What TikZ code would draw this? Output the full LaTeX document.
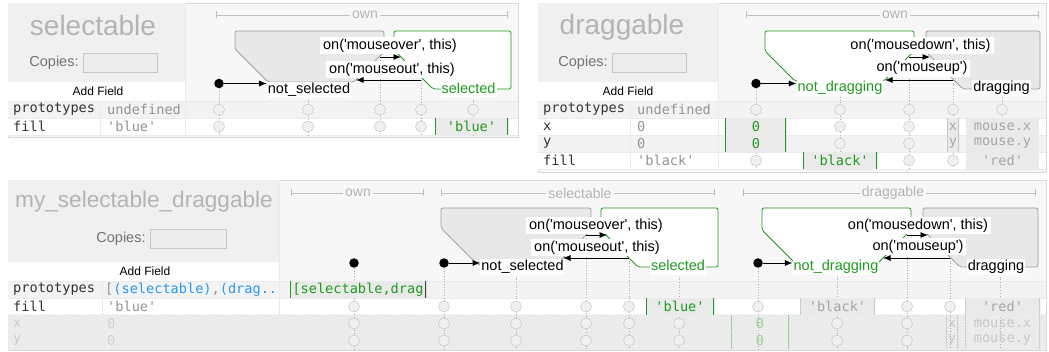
\documentclass[tikz,border=0pt]{standalone}
\usepackage{fontspec}
\setmainfont{Liberation Sans}
\newfontfamily\monof{DejaVu Sans Mono}
\usetikzlibrary{arrows.meta,patterns}
\definecolor{pbg}{HTML}{F7F7F7}
\definecolor{sbg}{HTML}{F0F0F0}
\definecolor{rbg}{HTML}{F3F3F3}
\definecolor{edge}{HTML}{D9D9D9}
\definecolor{cellg}{HTML}{EAEAEA}
\definecolor{txtg}{HTML}{B4B4B4}
\definecolor{grn}{HTML}{1F9A1F}
\definecolor{blu}{HTML}{2A98F0}
\newcommand\fsz[1]{\fontsize{#1}{#1}\selectfont}
\newcommand\qt{\textquotesingle}

\begin{document}
\begin{tikzpicture}[x=1pt,y=-1pt,
  panel/.style={draw=edge,fill=pbg},
  sepl/.style={draw=black!8},
  ttl/.style={text=txtg,font=\fsz{28},inner sep=0pt},
  cop/.style={text=black!55,font=\fsz{14.5},anchor=east,inner sep=0pt},
  cbox/.style={draw=black!22,fill=black!7,minimum width=74pt,minimum height=19pt,inner sep=0pt},
  addf/.style={font=\fsz{12},inner sep=0pt},
  key/.style={font=\monof\fsz{13.6},text=black!80,anchor=west,inner sep=0pt},
  val/.style={font=\monof\fsz{13.6},text=black!42,anchor=west,inner sep=0pt},
  rng/.style={draw=black!25,line width=0.7pt,{Bar[width=7pt]}-{Bar[width=7pt]}},
  rnglbl/.style={fill=pbg,text=txtg,font=\fsz{14},inner sep=2pt},
  st/.style={fill=white,font=\fsz{14.5},inner sep=1pt,text height=10.5pt,text depth=3.5pt},
  ev/.style={fill=white,font=\fsz{14.5},inner xsep=3pt,inner ysep=1.5pt,text height=10.5pt,text depth=3.5pt},
  gshape/.style={draw=black!38,fill=black!9,line width=0.75pt,rounded corners=2pt},
  wshape/.style={draw=grn,fill=white,line width=0.75pt,rounded corners=2pt},
  tr/.style={-{Latex[length=7.5pt,width=6pt]},line width=0.8pt},
  dot/.style={circle,fill=black,minimum size=9.5pt,inner sep=0pt},
  guide/.style={draw=black!32,dotted,line width=0.7pt},
  circ/.style={circle,draw=black!25,fill=black!6,minimum size=11pt,inner sep=0pt},
  cell/.style={fill=cellg,inner sep=0pt,minimum height=17pt,font=\monof\fsz{13.6}},
  bars/.style 2 args={path picture={
    \draw[#1,line width=2.6pt] (path picture bounding box.north west) -- (path picture bounding box.south west);
    \draw[#2,line width=2.6pt] (path picture bounding box.north east) -- (path picture bounding box.south east);}},
  ctxt/.style={font=\monof\fsz{13.6},inner sep=0pt}
]
\useasboundingbox (0,0) rectangle (1049,352);

%%%%% selectable
\draw[panel] (8,3) rectangle (518,137);
\fill[sbg] (8,3) rectangle (185,82);
\fill[white] (8,82) rectangle (185,101);
\fill[rbg] (8,101) rectangle (518,118);
\fill[white] (8,118) rectangle (518,135);
\draw[sepl] (185,3) -- (185,135) (100,101) -- (100,135) (8,101) -- (518,101) (8,118) -- (518,118) (8,135) -- (518,135);
\node[ttl] (sT) at (93,25) {selectable};
\node[cbox] (sCB) at (120,62.5) {};
\node[cop] (sC) at ([xshift=-4pt]sCB.west) {Copies:};
\node[addf] (sA) at (98,91.5) {Add Field};
\node[key] (sK1) at (13,109.5) {prototypes};
\node[val] (sV1) at (107,109.5) {undefined};
\node[key] (sK2) at (13,126.5) {fill};
\node[val] (sV2) at (107,126.5) {\qt blue\qt};

\coordinate (sO1) at (216,15);
\coordinate (sO2) at (508,15);
\draw[rng] (sO1) -- (sO2);
\node[rnglbl] (sOwn) at (365,15) {own};

\draw[gshape] (235,31) -- (384,31) -- (384,52) -- (354,82) -- (268,82) -- (235,49) -- cycle;
\draw[wshape] (394,31) -- (511,31) -- (511,89) -- (433,89) -- (394,50) -- cycle;

\node[dot] (s0) at (219,83.5) {};
\coordinate (s1) at (308,97);
\coordinate (s2) at (380,57);
\coordinate (s3) at (421,80);
\coordinate (s4) at (473,97);
\coordinate (s2e) at (401,57);
\coordinate (s3e) at (356,80);
\coordinate (sR1) at (0,109.5);
\coordinate (sR2) at (0,126.5);
\coordinate (sB) at (0,135);
\foreach \c in {s0,s1,s2,s3,s4} \draw[guide] (\c) -- (\c |- sB);

\node[st] (sNS) at (309,90) {not\_selected};
\node[st,text=grn] (sSel) at (468.5,90) {selected};
\node[ev] (sOver) at (390,46) {on(\qt mouseover\qt, this)};
\node[ev] (sOut) at (392,70) {on(\qt mouseout\qt, this)};
\draw[tr] (s0) -- (s0 -| sNS.west);
\draw[tr] (s2) -- (s2e);
\draw[tr] (s3) -- (s3e);

\foreach \c in {s0,s1,s2,s3,s4} \node[circ] (\c-p) at (\c |- sR1) {};
\foreach \c in {s0,s1,s2,s3} \node[circ] (\c-f) at (\c |- sR2) {};
\node[cell,bars={grn}{grn},minimum width=73pt,text=grn] (s4-f) at (471.5,126.5) {\qt blue\qt};

%%%%% draggable
\draw[panel] (538,3) rectangle (1046,172);
\fill[sbg] (538,3) rectangle (718,82);
\fill[white] (538,82) rectangle (718,101);
\fill[rbg] (538,101) rectangle (1046,118);
\fill[white] (538,118) rectangle (1046,135);
\fill[rbg] (538,135) rectangle (1046,152);
\fill[white] (538,152) rectangle (1046,169);
\draw[sepl] (718,3) -- (718,169) (630,101) -- (630,169) (538,101) -- (1046,101) (538,118) -- (1046,118) (538,135) -- (1046,135) (538,152) -- (1046,152) (538,169) -- (1046,169);
\node[ttl] (dT) at (622,27) {draggable};
\node[cbox] (dCB) at (649,62.5) {};
\node[cop] (dC) at ([xshift=-4pt]dCB.west) {Copies:};
\node[addf] (dA) at (628,91.5) {Add Field};
\node[key] (dK1) at (543,109.5) {prototypes};
\node[val] (dV1) at (637,109.5) {undefined};
\node[key] (dK2) at (543,126.5) {x};
\node[val] (dV2) at (637,126.5) {0};
\node[key] (dK3) at (543,143.5) {y};
\node[val] (dV3) at (637,143.5) {0};
\node[key] (dK4) at (543,160.5) {fill};
\node[val] (dV4) at (637,160.5) {\qt black\qt};

\coordinate (dO1) at (746,15);
\coordinate (dO2) at (1039,15);
\draw[rng] (dO1) -- (dO2);
\node[rnglbl] (dOwn) at (895,15) {own};

\draw[wshape] (765,31) -- (914,31) -- (914,51) -- (884,81) -- (795,81) -- (765,51) -- cycle;
\draw[gshape] (926,31) -- (1040,31) -- (1040,89) -- (963,89) -- (926,52) -- cycle;

\node[dot] (d0) at (756,83.5) {};
\coordinate (d1) at (840,97);
\coordinate (d2) at (909,57);
\coordinate (d3) at (953,80);
\coordinate (d4) at (1002,97);
\coordinate (d2e) at (930,57);
\coordinate (d3e) at (885,80);
\coordinate (dR1) at (0,109.5);
\coordinate (dR2) at (0,126.5);
\coordinate (dR3) at (0,143.5);
\coordinate (dR4) at (0,160.5);
\coordinate (dB) at (0,169);
\foreach \c in {d0,d1,d2,d3,d4} \draw[guide] (\c) -- (\c |- dB);

\node[st,text=grn] (dND) at (840,88) {not\_dragging};
\node[st] (dDr) at (1001.5,88) {dragging};
\node[ev] (dDown) at (920.5,46) {on(\qt mousedown\qt, this)};
\node[ev] (dUp) at (922,68.5) {on(\qt mouseup\qt)};
\draw[tr] (d0) -- (d0 -| dND.west);
\draw[tr] (d2) -- (d2e);
\draw[tr] (d3) -- (d3e);

\foreach \c in {d0,d1,d2,d3,d4} \node[circ] (\c-p) at (\c |- dR1) {};
\foreach \c in {d1,d2} \node[circ] (\c-x) at (\c |- dR2) {};
\foreach \c in {d1,d2} \node[circ] (\c-y) at (\c |- dR3) {};
\foreach \c in {d0,d2,d3} \node[circ] (\c-f) at (\c |- dR4) {};
\node[cell,bars={grn}{grn},minimum width=61pt,minimum height=34pt] (d0-xy) at (755.5,135) {};
\node[ctxt,text=grn] (d0-x) at (d0 |- dR2) {0};
\node[ctxt,text=grn] (d0-y) at (d0 |- dR3) {0};
\node[cell,bars={grn}{grn},minimum width=74pt,text=grn] (d1-f) at (840,160.5) {\qt black\qt};
\node[cell,bars={black!22}{black!22},minimum width=12pt,minimum height=34pt] (d3-xy) at (953,135) {};
\node[ctxt,text=black!35] (d3-x) at (d3-xy |- dR2) {x};
\node[ctxt,text=black!35] (d3-y) at (d3-xy |- dR3) {y};
\node[cell,minimum width=73pt,minimum height=51pt] (d4-m) at (1002.5,143.5) {};
\node[ctxt,text=black!35] (d4-x) at (d4-m |- dR2) {mouse.x};
\node[ctxt,text=black!35] (d4-y) at (d4-m |- dR3) {mouse.y};
\node[ctxt,text=black!35] (d4-f) at (d4-m |- dR4) {\qt red\qt};

%%%%% my_selectable_draggable
\draw[panel] (8,180) rectangle (1046,350);
\fill[sbg] (8,180) rectangle (279,262);
\fill[white] (8,262) rectangle (279,281);
\fill[rbg] (8,281) rectangle (1046,298);
\fill[white] (8,298) rectangle (1046,315);
\fill[rbg] (8,315) rectangle (1046,349);
\fill[pattern=north west lines,pattern color=black!13] (8,315) rectangle (1046,349);
\draw[sepl] (279,180) -- (279,349) (102,281) -- (102,349) (8,281) -- (1046,281) (8,298) -- (1046,298) (8,315) -- (1046,315) (8,332) -- (1046,332) (8,349) -- (1046,349);
\node[ttl,font=\fsz{22.6}] (mT) at (144,201.5) {my\_selectable\_draggable};
\node[cbox,minimum width=76pt] (mCB) at (188,238.5) {};
\node[cop] (mC) at ([xshift=-4pt]mCB.west) {Copies:};
\node[addf] (mA) at (145,271.5) {Add Field};
\node[key] (mK1) at (13,289.5) {prototypes};
\node[val] (mV1) at (105,289.5) {[{\color{blu}(selectable)},{\color{blu}(drag..}};
\node[key] (mK2) at (13,306.5) {fill};
\node[val] (mV2) at (107,306.5) {\qt blue\qt};
\node[key,text=black!20] (mK3) at (13,323.5) {x};
\node[val,text=black!18] (mV3) at (107,323.5) {0};
\node[key,text=black!20] (mK4) at (13,340.5) {y};
\node[val,text=black!18] (mV4) at (107,340.5) {0};

\coordinate (mO1) at (291,193);
\coordinate (mO2) at (424,193);
\coordinate (mS1) at (441,193);
\coordinate (mS2) at (715,193);
\coordinate (mD1) at (743,193);
\coordinate (mD2) at (1036,193);
\draw[rng] (mO1) -- (mO2);
\draw[rng] (mS1) -- (mS2);
\draw[rng] (mD1) -- (mD2);
\node[rnglbl] (mOwn) at (358,193) {own};
\node[rnglbl] (mSelR) at (580,193) {selectable};
\node[rnglbl] (mDrgR) at (893,193) {draggable};

\draw[gshape] (441,208) -- (591,208) -- (591,230) -- (556,265) -- (478,265) -- (441,228) -- cycle;
\draw[wshape] (601,208) -- (718,208) -- (718,267) -- (638,267) -- (601,230) -- cycle;
\draw[wshape] (762,208) -- (911,208) -- (911,230) -- (876,265) -- (797,265) -- (762,230) -- cycle;
\draw[gshape] (923,208) -- (1038,208) -- (1038,267) -- (960,267) -- (923,230) -- cycle;

\node[dot] (m0) at (354,263) {};
\node[dot] (m1) at (444,263) {};
\coordinate (m2) at (516,274);
\coordinate (m3) at (586,235);
\coordinate (m4) at (629,258);
\coordinate (m5) at (679,274);
\node[dot] (m6) at (758,263) {};
\coordinate (m7) at (837,274);
\coordinate (m8) at (907,235);
\coordinate (m9) at (950,258);
\coordinate (m10) at (1000,274);
\coordinate (m3e) at (607,235);
\coordinate (m4e) at (563,258);
\coordinate (m8e) at (928,235);
\coordinate (m9e) at (883,258);
\coordinate (mR1) at (0,289.5);
\coordinate (mR2) at (0,306.5);
\coordinate (mR3) at (0,323.5);
\coordinate (mR4) at (0,340.5);
\coordinate (mB) at (0,349);
\foreach \c in {m0,m1,m2,m3,m4,m5,m6,m7,m8,m9,m10} \draw[guide] (\c) -- (\c |- mB);

\node[st] (mNS) at (522.5,267) {not\_selected};
\node[st,text=grn] (mSel) at (678,267) {selected};
\node[ev] (mOver) at (596,226) {on(\qt mouseover\qt, this)};
\node[ev] (mOut) at (597,248) {on(\qt mouseout\qt, this)};
\node[st,text=grn] (mND) at (836,267) {not\_dragging};
\node[st] (mDr) at (996,267) {dragging};
\node[ev] (mDown) at (918,226) {on(\qt mousedown\qt, this)};
\node[ev] (mUp) at (918,247) {on(\qt mouseup\qt)};
\draw[tr] (m1) -- (m1 -| mNS.west);
\draw[tr] (m3) -- (m3e);
\draw[tr] (m4) -- (m4e);
\draw[tr] (m6) -- (m6 -| mND.west);
\draw[tr] (m8) -- (m8e);
\draw[tr] (m9) -- (m9e);

\node[cell,bars={grn}{black!75},minimum width=136pt,text=grn] (m0-p) at (358,289.5) {[selectable,drag};
\foreach \c in {m0,m1,m2,m3,m4,m6,m8,m9} \node[circ] (\c-f) at (\c |- mR2) {};
\foreach \c in {m0,m1,m2,m3,m4,m5,m7,m8} \node[circ] (\c-x) at (\c |- mR3) {};
\foreach \c in {m0,m1,m2,m3,m4,m5,m7,m8} \node[circ] (\c-y) at (\c |- mR4) {};
\node[cell,bars={grn}{grn},minimum width=68pt,text=grn] (m5-f) at (680,306.5) {\qt blue\qt};
\node[cell,bars={black!20}{black!20},minimum width=75pt,text=black!35] (m7-f) at (837.5,306.5) {\qt black\qt};
\node[cell,bars={black!20}{black!20},minimum width=75pt,text=black!35] (m10-f) at (1002.5,306.5) {\qt red\qt};
\node[cell,fill=none,bars={grn!45}{grn!45},minimum width=58pt,minimum height=34pt] (m6-xy) at (760,332) {};
\node[ctxt,text=grn!45] (m6-x) at (m6-xy |- mR3) {0};
\node[ctxt,text=grn!45] (m6-y) at (m6-xy |- mR4) {0};
\node[cell,fill=none,bars={black!18}{black!18},minimum width=12pt,minimum height=34pt] (m9-xy) at (952,332) {};
\node[ctxt,text=black!22] (m9-x) at (m9-xy |- mR3) {x};
\node[ctxt,text=black!22] (m9-y) at (m9-xy |- mR4) {y};
\node[cell,fill=none,bars={black!18}{black!18},minimum width=75pt,minimum height=34pt] (m10-xy) at (1002.5,332) {};
\node[ctxt,text=black!22] (m10-x) at (m10-xy |- mR3) {mouse.x};
\node[ctxt,text=black!22] (m10-y) at (m10-xy |- mR4) {mouse.y};
\end{tikzpicture}
\end{document}
